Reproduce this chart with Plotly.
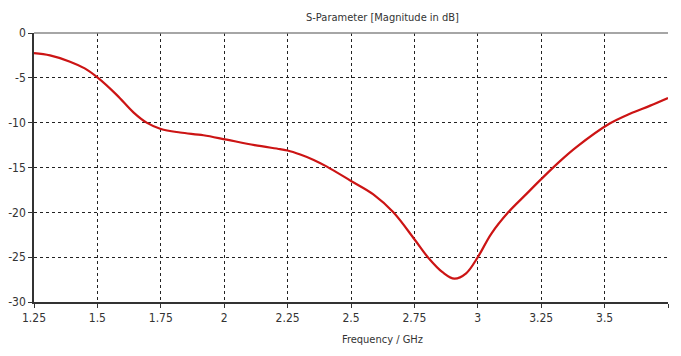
import plotly.graph_objects as go

freq = [1.25, 1.313, 1.392, 1.45, 1.50, 1.576, 1.642, 1.694, 1.75, 1.826, 1.918, 2.01, 2.12, 2.22, 2.25,
        2.30, 2.353, 2.405, 2.50, 2.588, 2.667, 2.75, 2.803, 2.862, 2.908, 2.954, 3.00, 3.053, 3.12,
        3.19, 3.25, 3.32, 3.39, 3.52, 3.60, 3.68, 3.75]
s11 = [-2.25, -2.5, -3.2, -3.95, -4.95, -6.9, -8.85, -10.0, -10.7, -11.1, -11.4, -11.9, -12.5, -12.95, -13.1,
       -13.55, -14.15, -14.9, -16.5, -18.0, -20.0, -23.0, -25.0, -26.7, -27.4, -26.8, -25.0, -22.4, -20.0,
       -18.0, -16.3, -14.4, -12.7, -10.1, -9.0, -8.1, -7.25]

x_ticks = [1.25, 1.5, 1.75, 2, 2.25, 2.5, 2.75, 3, 3.25, 3.5, 3.75]
x_labels = ["1.25", "1.5", "1.75", "2", "2.25", "2.5", "2.75", "3", "3.25", "3.5", ""]
y_ticks = [0, -5, -10, -15, -20, -25, -30]
y_labels = ["0", "-5", "-10", "-15", "-20", "-25", "-30"]

FONT = "DejaVu Sans Condensed, DejaVu Sans"
TXT = "#333333"

fig = go.Figure()
fig.add_trace(go.Scatter(x=freq, y=s11, mode="lines",
                         line=dict(color="#cc1414", width=2.2, shape="spline", smoothing=1.0),
                         showlegend=False, hoverinfo="skip"))

fig.update_layout(
    width=665, height=340,
    margin=dict(l=26, r=5, t=25, b=46, autoexpand=False),
    paper_bgcolor="white", plot_bgcolor="white",
    font=dict(family=FONT, size=12, color=TXT),
    xaxis=dict(range=[1.25, 3.75], tickvals=x_ticks, ticktext=x_labels, automargin=False,
               showgrid=True, gridcolor="#222222", griddash="dot", gridwidth=1,
               showline=True, linecolor="#333333", linewidth=1.5, mirror=False,
               ticks="outside", ticklen=4, tickcolor="#333333", zeroline=False,
               tickfont=dict(family=FONT, size=12, color=TXT)),
    yaxis=dict(range=[-30, 0], tickvals=y_ticks, ticktext=y_labels, automargin=False,
               showgrid=True, gridcolor="#222222", griddash="dot", gridwidth=1,
               showline=True, linecolor="#333333", linewidth=1.5,
               ticks="outside", ticklen=4, tickcolor="#333333", zeroline=False,
               tickfont=dict(family=FONT, size=12, color=TXT)),
    annotations=[
        dict(text="S-Parameter [Magnitude in dB]", xref="paper", yref="paper",
             x=0.549, y=1.0, yshift=16, xanchor="center", yanchor="middle",
             showarrow=False, font=dict(family=FONT, size=11, color=TXT)),
        dict(text="Frequency / GHz", xref="paper", yref="paper",
             x=0.549, y=0, yshift=-37, xanchor="center", yanchor="middle",
             showarrow=False, font=dict(family=FONT, size=11, color=TXT)),
    ],
    shapes=[dict(type="line", xref="paper", yref="paper", x0=0, x1=1, y0=1, y1=1,
                 line=dict(color="#888888", width=1.5))],
)

fig.write_html("out.html")
